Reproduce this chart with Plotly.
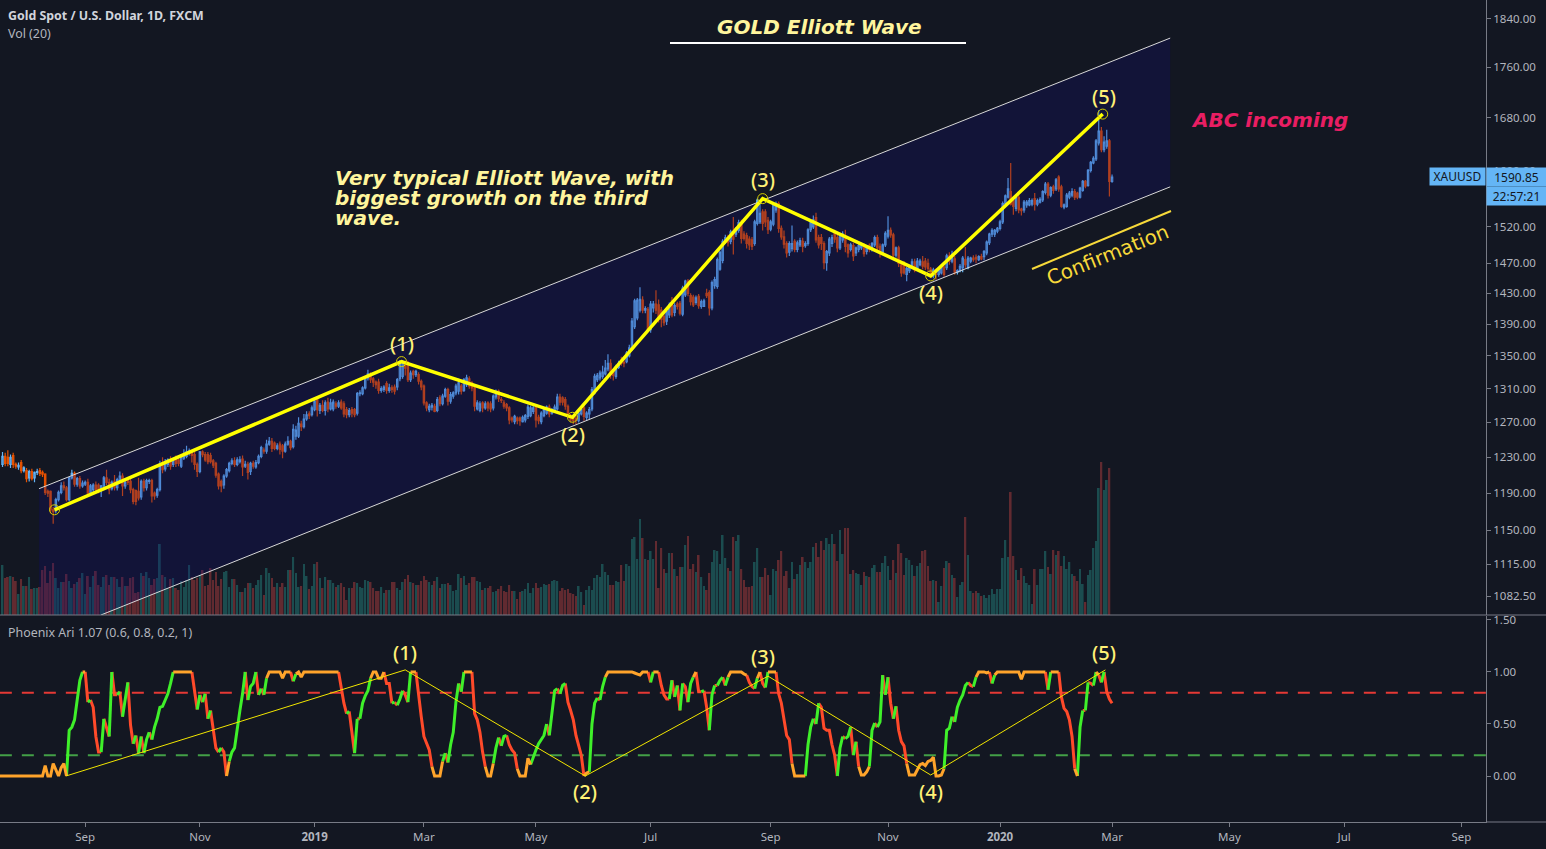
import math
import plotly.graph_objects as go

# daily candles
opens = [
    1222,1231,1230,1222,1232,1222,1219,1224,1215,1215,
    1207,1214,1207,1213,1215,1213,1211,1192,1192,1172,
    1171,1183,1191,1198,1196,1183,1207,1212,1200,1206,
    1198,1200,1202,1190,1194,1199,1199,1194,1198,1207,
    1202,1195,1203,1196,1204,1209,1198,1204,1203,1194,
    1193,1192,1186,1203,1196,1203,1204,1190,1188,1194,
    1224,1217,1222,1227,1222,1228,1227,1220,1229,1231,
    1235,1236,1233,1222,1214,1236,1233,1233,1232,1226,
    1223,1211,1203,1199,1209,1215,1223,1226,1222,1225,
    1228,1220,1222,1214,1223,1219,1224,1231,1238,1237,
    1245,1248,1246,1240,1245,1243,1237,1245,1248,1242,
    1254,1254,1268,1265,1274,1280,1279,1285,1297,1284,
    1290,1284,1294,1286,1286,1292,1289,1294,1292,1285,
    1279,1285,1285,1281,1304,1304,1311,1323,1325,1322,
    1318,1318,1308,1309,1316,1308,1311,1312,1312,1322,
    1325,1342,1342,1321,1331,1327,1327,1319,1313,1293,
    1285,1288,1289,1284,1299,1292,1301,1309,1295,1301,
    1305,1307,1313,1308,1315,1322,1317,1311,1286,1284,
    1293,1287,1293,1292,1287,1300,1307,1297,1293,1291,
    1287,1275,1271,1275,1275,1271,1273,1277,1278,1283,
    1288,1276,1271,1278,1281,1288,1281,1283,1286,1300,
    1299,1297,1289,1278,1276,1275,1272,1280,1287,1276,
    1280,1286,1305,1321,1323,1325,1328,1334,1341,1331,
    1325,1336,1344,1342,1343,1350,1358,1387,1398,1408,
    1421,1408,1409,1383,1411,1416,1415,1408,1400,1394,
    1402,1420,1405,1416,1417,1403,1428,1446,1427,1425,
    1418,1426,1413,1413,1430,1431,1411,1440,1439,1462,
    1474,1500,1505,1500,1512,1510,1515,1526,1510,1508,
    1503,1502,1497,1525,1527,1541,1541,1529,1517,1524,
    1544,1553,1518,1506,1497,1485,1490,1500,1489,1495,
    1500,1494,1497,1516,1520,1533,1505,1505,1497,1471,
    1484,1497,1512,1505,1491,1502,1506,1495,1489,1494,
    1484,1489,1491,1491,1486,1494,1490,1495,1505,1493,
    1485,1495,1507,1515,1509,1481,1491,1468,1470,1455,
    1460,1465,1472,1463,1468,1472,1473,1470,1462,1453,
    1460,1455,1457,1465,1464,1480,1473,1476,1458,1460,
    1464,1475,1464,1473,1477,1478,1475,1479,1479,1484,
    1498,1510,1510,1514,1518,1527,1553,1562,1570,1557,
    1546,1562,1545,1544,1551,1551,1552,1560,1552,1555,
    1558,1569,1581,1565,1577,1574,1591,1577,1548,1549,
    1562,1565,1570,1568,1562,1572,1585,1579,1601,1612,
    1618,1642,1660,1632,1637,1645,1585,
]
closes = [
    1231,1223,1223,1230,1222,1220,1221,1215,1218,1206,
    1214,1206,1213,1214,1212,1211,1191,1190,1172,1170,
    1183,1191,1198,1196,1183,1207,1212,1200,1206,1198,
    1201,1202,1190,1198,1199,1194,1193,1198,1207,1202,
    1194,1202,1196,1205,1209,1198,1202,1202,1194,1181,
    1181,1185,1203,1196,1204,1204,1187,1187,1194,1222,
    1216,1225,1227,1220,1226,1223,1223,1231,1233,1236,
    1237,1232,1222,1214,1236,1233,1227,1225,1225,1221,
    1210,1198,1198,1209,1216,1223,1226,1222,1227,1227,
    1219,1222,1213,1223,1220,1224,1231,1241,1237,1245,
    1248,1240,1240,1243,1239,1237,1245,1248,1241,1262,
    1261,1269,1265,1274,1279,1278,1287,1295,1285,1290,
    1284,1293,1286,1293,1294,1289,1293,1287,1280,1279,
    1284,1281,1279,1304,1305,1311,1323,1328,1321,1318,
    1315,1308,1310,1312,1308,1311,1309,1307,1321,1340,
    1342,1335,1321,1329,1327,1331,1319,1312,1293,1287,
    1289,1290,1283,1297,1292,1301,1309,1295,1303,1305,
    1313,1317,1307,1321,1323,1313,1311,1289,1293,1292,
    1287,1292,1287,1286,1301,1306,1298,1296,1289,1287,
    1273,1273,1277,1272,1272,1276,1278,1288,1287,1287,
    1273,1272,1281,1285,1288,1280,1285,1288,1300,1294,
    1294,1289,1277,1273,1272,1272,1281,1285,1277,1281,
    1285,1309,1325,1326,1329,1330,1335,1341,1327,1326,
    1337,1341,1341,1341,1354,1360,1394,1420,1421,1422,
    1408,1410,1383,1416,1416,1408,1398,1396,1392,1406,
    1415,1402,1414,1413,1404,1437,1446,1430,1419,1415,
    1424,1414,1419,1420,1427,1411,1444,1448,1475,1485,
    1500,1505,1498,1513,1503,1518,1526,1504,1504,1497,
    1495,1493,1527,1558,1539,1525,1527,1516,1527,1552,
    1553,1518,1506,1496,1484,1497,1497,1489,1498,1501,
    1493,1497,1516,1527,1530,1502,1495,1497,1471,1486,
    1503,1505,1503,1491,1509,1510,1493,1484,1495,1480,
    1491,1494,1495,1483,1493,1489,1497,1505,1491,1484,
    1495,1511,1515,1509,1481,1491,1470,1457,1457,1463,
    1465,1472,1461,1473,1473,1466,1465,1463,1455,1461,
    1455,1461,1465,1455,1480,1473,1482,1458,1460,1466,
    1477,1468,1477,1477,1475,1476,1479,1476,1486,1499,
    1510,1515,1515,1518,1527,1553,1564,1574,1552,1549,
    1562,1544,1543,1555,1555,1557,1557,1552,1557,1559,
    1570,1581,1565,1576,1572,1587,1574,1549,1551,1565,
    1568,1570,1562,1562,1575,1585,1578,1601,1613,1619,
    1645,1660,1632,1643,1645,1585,1591,
]
highs = [
    1236,1235,1238,1233,1235,1224,1224,1227,1220,1218,
    1216,1217,1214,1217,1218,1215,1212,1194,1193,1175,
    1185,1193,1202,1203,1198,1208,1216,1214,1208,1209,
    1204,1204,1206,1200,1201,1203,1201,1199,1209,1216,
    1206,1204,1210,1207,1214,1212,1205,1206,1206,1196,
    1194,1207,1205,1206,1206,1206,1206,1192,1196,1226,
    1230,1228,1229,1231,1228,1232,1229,1233,1239,1243,
    1240,1238,1236,1224,1237,1238,1236,1236,1235,1228,
    1225,1213,1205,1211,1218,1225,1229,1230,1230,1231,
    1232,1226,1225,1225,1226,1227,1233,1243,1241,1250,
    1253,1252,1248,1246,1248,1245,1248,1254,1250,1268,
    1266,1276,1272,1280,1283,1283,1290,1299,1300,1293,
    1296,1296,1299,1298,1297,1295,1296,1297,1295,1288,
    1287,1288,1287,1306,1308,1313,1325,1333,1330,1324,
    1320,1322,1313,1314,1319,1316,1314,1315,1323,1345,
    1345,1344,1344,1332,1333,1333,1330,1321,1315,1295,
    1292,1293,1292,1300,1302,1304,1311,1311,1306,1307,
    1316,1322,1316,1323,1327,1325,1319,1314,1296,1295,
    1295,1295,1295,1295,1303,1309,1309,1300,1296,1293,
    1289,1277,1279,1277,1277,1278,1280,1291,1290,1291,
    1291,1279,1283,1288,1290,1291,1287,1291,1304,1304,
    1301,1300,1291,1280,1278,1278,1284,1288,1291,1283,
    1288,1312,1328,1329,1332,1338,1345,1352,1346,1334,
    1339,1344,1349,1348,1356,1364,1398,1423,1424,1438,
    1426,1413,1412,1420,1420,1434,1422,1412,1405,1409,
    1418,1425,1417,1419,1420,1440,1448,1449,1430,1428,
    1427,1429,1422,1423,1436,1434,1447,1452,1478,1487,
    1503,1509,1509,1516,1534,1520,1530,1530,1514,1512,
    1507,1506,1530,1560,1558,1545,1545,1534,1530,1554,
    1556,1556,1522,1515,1500,1500,1522,1503,1501,1505,
    1505,1500,1518,1529,1536,1540,1509,1510,1500,1488,
    1506,1509,1516,1512,1511,1514,1516,1497,1498,1498,
    1493,1497,1498,1497,1495,1497,1499,1508,1509,1497,
    1497,1514,1535,1519,1512,1493,1494,1472,1473,1465,
    1468,1476,1476,1477,1476,1480,1477,1476,1465,1464,
    1463,1464,1468,1467,1483,1485,1487,1480,1462,1469,
    1480,1492,1480,1479,1481,1482,1481,1483,1488,1501,
    1512,1518,1517,1520,1530,1556,1566,1590,1612,1562,
    1565,1566,1547,1558,1558,1561,1560,1568,1560,1562,
    1572,1584,1584,1578,1580,1590,1594,1580,1553,1568,
    1571,1575,1574,1570,1577,1587,1587,1603,1615,1622,
    1648,1692,1666,1652,1662,1648,1595,
]
lows = [
    1219,1220,1220,1218,1218,1217,1216,1212,1213,1202,
    1203,1204,1202,1210,1209,1208,1188,1186,1168,1157,
    1168,1181,1189,1193,1181,1181,1205,1197,1197,1195,
    1196,1198,1187,1188,1191,1191,1190,1186,1196,1199,
    1189,1193,1193,1193,1202,1187,1195,1199,1190,1178,
    1177,1182,1183,1192,1193,1200,1180,1183,1185,1192,
    1212,1214,1219,1216,1219,1219,1220,1218,1227,1229,
    1232,1224,1216,1208,1212,1230,1225,1222,1223,1218,
    1207,1194,1191,1195,1207,1213,1221,1219,1220,1223,
    1209,1218,1205,1210,1217,1217,1222,1229,1234,1234,
    1243,1236,1238,1238,1233,1229,1235,1243,1238,1240,
    1250,1252,1260,1263,1272,1274,1277,1283,1277,1280,
    1282,1278,1282,1284,1283,1286,1287,1285,1276,1275,
    1276,1276,1276,1278,1301,1302,1309,1320,1317,1312,
    1310,1304,1305,1306,1304,1305,1305,1303,1308,1319,
    1322,1326,1318,1318,1322,1324,1315,1308,1290,1283,
    1282,1284,1282,1282,1289,1290,1299,1290,1292,1298,
    1302,1303,1303,1306,1312,1310,1307,1283,1284,1282,
    1282,1285,1283,1282,1284,1297,1294,1293,1286,1283,
    1268,1270,1268,1268,1266,1270,1270,1274,1276,1280,
    1264,1268,1268,1276,1279,1276,1279,1281,1284,1290,
    1290,1285,1275,1270,1268,1268,1270,1278,1272,1272,
    1274,1283,1303,1318,1320,1322,1326,1331,1322,1320,
    1322,1334,1338,1336,1341,1348,1356,1384,1395,1405,
    1404,1404,1380,1379,1405,1403,1392,1386,1388,1389,
    1398,1399,1400,1409,1401,1400,1425,1426,1414,1412,
    1415,1410,1410,1412,1424,1401,1408,1436,1436,1460,
    1470,1497,1493,1496,1482,1506,1512,1497,1501,1490,
    1488,1488,1494,1522,1524,1515,1520,1510,1514,1521,
    1540,1512,1502,1490,1478,1480,1486,1485,1485,1492,
    1485,1491,1494,1513,1517,1498,1490,1488,1462,1460,
    1480,1492,1498,1485,1488,1498,1485,1478,1486,1473,
    1480,1485,1488,1479,1482,1485,1486,1492,1487,1478,
    1483,1492,1504,1505,1478,1478,1465,1452,1455,1446,
    1457,1462,1458,1460,1466,1462,1461,1459,1451,1450,
    1448,1452,1455,1452,1461,1468,1470,1455,1455,1458,
    1458,1464,1462,1470,1472,1470,1473,1474,1474,1481,
    1495,1506,1506,1511,1515,1524,1550,1560,1550,1537,
    1542,1539,1536,1540,1547,1549,1549,1543,1549,1553,
    1555,1566,1560,1562,1567,1571,1570,1547,1545,1547,
    1559,1562,1558,1559,1560,1570,1575,1577,1598,1610,
    1615,1638,1628,1628,1633,1563,1583,
]
# volume, relative units (the last bar has none yet)
volume = [
    50,37,38,39,38,34,21,36,29,29,38,26,27,27,28,45,49,32,44,52,
    37,27,33,33,41,34,27,31,33,37,42,21,39,28,39,44,30,28,38,40,
    30,38,38,36,28,38,29,29,37,38,22,23,42,39,43,37,30,36,37,71,
    40,38,27,36,37,27,25,34,28,35,50,38,35,37,40,45,29,30,47,35,
    43,29,36,43,44,28,36,36,30,23,23,27,32,32,27,30,35,40,20,47,
    42,37,28,32,28,32,28,45,45,58,42,28,29,51,39,26,29,51,53,37,
    27,38,35,35,32,28,30,32,28,15,27,27,33,32,28,27,35,34,33,27,
    24,24,28,22,25,25,33,33,27,25,
    33,36,40,33,32,30,30,34,39,35,33,30,34,38,27,31,31,32,30,24,
    25,41,37,39,30,32,38,38,34,33,25,27,27,29,23,24,26,29,24,23,
    30,24,24,16,23,24,26,32,22,27,32,27,28,31,30,31,34,35,34,24,
    27,25,26,22,21,19,29,23,10,25,29,25,37,40,38,51,43,40,30,30,
    34,33,50,34,51,49,76,78,56,96,77,56,55,64,56,74,27,67,46,42,
    62,62,46,39,48,48,70,79,46,51,43,60,38,29,25,42,53,65,64,51,
    80,57,47,44,78,74,80,46,35,28,28,29,53,67,38,38,47,40,20,46,
    44,55,64,39,44,27,53,36,41,50,
    58,53,47,53,68,72,58,74,65,77,71,81,71,54,85,61,87,87,41,45,
    42,41,30,43,39,38,47,50,43,43,52,59,49,35,55,42,71,62,40,57,
    55,50,39,49,52,64,65,49,34,35,34,13,29,47,54,52,40,37,18,30,
    33,98,60,24,22,24,22,19,20,17,20,26,21,26,26,57,75,58,123,59,
    45,35,47,39,32,30,11,46,30,46,46,64,48,41,65,60,64,49,59,46,
    53,41,39,34,46,31,13,40,45,67,74,127,153,125,135,147,
]
# Phoenix Ari oscillator, starts one bar left of the first candle
osc = [
    0,
    0,0,0,0,0,0,0,0,0,0,
    0,0,0,0,0,0,.10,0,0,.12,
    .06,0,.08,.12,0,.44,.47,.54,.73,.92,
    1,1,.71,.73,.66,.38,.23,.23,.55,.47,
    .38,1,.78,.78,.81,.57,.74,.90,.49,.31,
    .39,.22,.38,.22,.35,.42,.35,.47,.55,.66,
    .67,.74,.79,.89,1,1,1,1,1,1,
    1,1,.84,.64,.78,.71,.79,.55,.63,.47,
    .27,.23,.27,.23,0,.14,.23,.27,.47,.63,
    .79,1,.73,.86,.89,1,.78,.84,.78,.94,
    1,1,1,1,1,.94,1,1,1,.91,
    .98,1,.95,1,1,1,1,1,1,1,
    1,1,1,1,1,1,1,.86,.70,.60,
    .62,.41,.22,.55,.55,.70,.77,.82,.94,1,
    1,.94,.94,1,.89,.89,.70,.71,.68,.74,
    .82,.78,.71,1,1,1,.76,.57,.38,.31,
    .25,.09,0,0,0,.14,.22,.13,.30,.42,
    .71,.89,.81,1,1,1,1,.60,.54,.42,
    .23,.09,0,0,.12,.27,.37,.29,.38,.39,
    .30,.25,.22,.07,0,0,0,.17,.11,.19,
    .25,.31,.35,.39,.50,.39,.63,.82,.84,.79,
    .87,.89,.71,.63,.54,.39,.30,.20,0,.03,
    .04,.50,.70,.75,.73,.86,.95,1,1,1,
    1,1,1,1,1,1,1,.99,.98,.97,
    1,1,1,.90,1,1,1,.87,.78,.74,
    .74,.92,.76,.87,.63,.89,.86,.71,.89,.95,
    1,.81,.81,.82,.66,.44,.78,.87,.87,.92,
    .95,.87,.95,1,1,1,1,1,.98,.97,
    .90,.86,.84,.94,1,.89,.85,1,1,1,
    1,.79,.70,.54,.39,.35,.12,0,0,0,
    0,0,.30,.47,.55,.50,.70,.66,.46,.44,
    .44,.30,.20,0,.27,.38,.36,.38,.47,.20,
    .33,.09,.01,.01,.04,.09,.44,.51,.47,.52,
    .97,.78,.95,.70,.55,.67,.44,.33,.29,.12,
    .01,.01,.01,.06,.11,.12,.10,.14,.15,.18,
    0,0,.01,.07,.44,.46,.57,.52,.66,.73,
    .78,.87,.90,.87,.86,.95,1,1,1,.99,
    1,.89,.97,1,1,1,1,1,1,1,
    1,1,.93,1,1,1,1,1,1,1,
    1,1,.83,1,1,1,1,.76,.65,.62,
    .54,.38,.07,0,.47,.63,.63,.90,.89,.87,
    1,.97,.90,1,.81,.74,.70,
]

# wave pivots and channel drawn on the chart
wave_x = [19.5, 149.6, 213.7, 285, 348, 412.5]
wave_y = [1172, 1343, 1276, 1560, 1453, 1686]
osc_wave_x = [23.8, 151, 218.5, 287, 348, 413.5]
osc_wave_y = [0, 1.02, 0, 0.96, 0.01, 1.02]
upper_x = [13.7, 437.8]
upper_y = [1195, 1808]
lower_x = [36.9, 437.8]
lower_y = [1064, 1577]
fill_x = [13.7, 437.8, 437.8, 36.9, 13.7]
fill_y = [1195, 1808, 1577, 1064, 1064]

time_ticks = [31, 74, 117, 158, 200, 243, 288, 332, 374, 416, 460, 503, 547]
time_labels = ["Sep", "Nov", "<b>2019</b>", "Mar", "May", "Jul", "Sep", "Nov",
               "<b>2020</b>", "Mar", "May", "Jul", "Sep"]
price_ticks = [1840, 1760, 1680, 1600, 1520, 1470, 1430, 1390, 1350, 1310,
               1270, 1230, 1190, 1150, 1115, 1082.5]
osc_ticks = [1.5, 1.0, 0.5, 0.0]

BG = "#131722"
AXIS = "#787b86"
TEXT = "#b2b5be"
BLUE = "#64b5f6"
ORANGE = "#e65100"
PALE = "#fff59d"
YELLOW = "#ffff00"
W, H = 1486.0, 822.0

bars = list(range(len(closes)))
vol_colors = ["#1b4c4f" if c >= o else "#612a30" for o, c in zip(opens, closes)]

fig = go.Figure()
fig.add_trace(go.Bar(x=bars[:len(volume)], y=volume, marker_color=vol_colors[:len(volume)],
                     marker_line_width=0, width=0.66, yaxis="y", hoverinfo="skip"))
fig.add_trace(go.Scatter(x=fill_x, y=fill_y, mode="lines", fill="toself", line_width=0,
                         fillcolor="rgba(15,11,122,0.25)", yaxis="y2", hoverinfo="skip"))
fig.add_trace(go.Candlestick(x=bars, open=opens, high=highs, low=lows, close=closes, yaxis="y2",
                             whiskerwidth=0,
                             increasing=dict(line=dict(color=BLUE, width=1.2), fillcolor="rgba(0,0,0,0)"),
                             decreasing=dict(line=dict(color=ORANGE, width=1.2), fillcolor=ORANGE)))
for xs, ys in [(upper_x, upper_y), (lower_x, lower_y)]:
    fig.add_trace(go.Scatter(x=xs, y=ys, mode="lines", line=dict(color="#d8d8d8", width=1), yaxis="y2"))
fig.add_trace(go.Scatter(x=wave_x, y=wave_y, mode="lines", line=dict(color=YELLOW, width=3.5), yaxis="y2"))
fig.add_trace(go.Scatter(x=wave_x, y=wave_y, mode="markers", yaxis="y2",
                         marker=dict(size=10, color="rgba(0,0,0,0)", line=dict(color="#d8d000", width=1))))

# oscillator: dashed levels, coloured line, thin wave overlay
fig.add_trace(go.Scatter(x=[-1, 557], y=[0.8, 0.8], mode="lines", yaxis="y3",
                         line=dict(color="#e53935", width=2, dash="12px,10px")))
fig.add_trace(go.Scatter(x=[-1, 557], y=[0.2, 0.2], mode="lines", yaxis="y3",
                         line=dict(color="#43a047", width=2, dash="12px,10px")))


def osc_colour(a, b):
    if (a >= 0.93 and b >= 0.93) or (a <= 0.18 and b <= 0.18):
        return "#ffa42b"
    return "#3ff02a" if b > a else "#ff4a2a"


# one run per stretch of the same colour so the joins stay clean
segs = {"#ff4a2a": ([], []), "#3ff02a": ([], []), "#ffa42b": ([], [])}
prev = None
for i in range(1, len(osc)):
    col = osc_colour(osc[i - 1], osc[i])
    xs, ys = segs[col]
    if col != prev:
        xs.extend([None, i - 2])
        ys.extend([None, osc[i - 1]])
    xs.append(i - 1)
    ys.append(osc[i])
    prev = col
for col, (xs, ys) in segs.items():
    fig.add_trace(go.Scatter(x=xs, y=ys, mode="lines", yaxis="y3",
                             line=dict(color=col, width=3)))
fig.add_trace(go.Scatter(x=osc_wave_x, y=osc_wave_y, mode="lines", yaxis="y3",
                         line=dict(color="#f2e600", width=1)))


def label(text, x, y, size, color, family="Noto Sans", anchor="center", **kw):
    font = dict(family=family, size=size, color=color)
    for key in ("weight", "style"):
        if key in kw:
            font[key] = kw.pop(key)
    fig.add_annotation(text=text, x=x / W, y=1 - y / H, xref="paper", yref="paper",
                       xanchor=anchor, yanchor="middle", showarrow=False, font=font, **kw)


label("Gold Spot / U.S. Dollar, 1D, FXCM", 6, 16, 12.4, "#d1d4dc", anchor="left", weight="bold")
label("Vol (20)", 6, 33, 12.4, "#b2b5be", anchor="left")
label("Phoenix Ari 1.07 (0.6, 0.8, 0.2, 1)", 6, 632, 12.4, "#b2b5be", anchor="left")

label("GOLD Elliott Wave", 819, 27, 20, PALE, "DejaVu Sans", weight="bold", style="italic")
label("Very typical Elliott Wave, with", 333, 178, 20, PALE, "DejaVu Sans", anchor="left", weight="bold", style="italic")
label("biggest growth on the third", 333, 198, 20, PALE, "DejaVu Sans", anchor="left", weight="bold", style="italic")
label("wave.", 333, 218, 20, PALE, "DejaVu Sans", anchor="left", weight="bold", style="italic")
label("ABC incoming", 1189, 120, 20, "#e91e63", "DejaVu Sans", anchor="left", weight="bold", style="italic")
label("Confirmation", 1107, 255, 20, "#f7d93a", "DejaVu Sans", textangle=-22)

for txt, x, y in [("(1)", 402, 343.5), ("(2)", 573, 435), ("(3)", 763, 179.5), ("(4)", 931, 292.5), ("(5)", 1104, 96.5),
                  ("(1)", 405, 652.5), ("(2)", 585, 791.5), ("(3)", 763, 656.5), ("(4)", 931, 791.5), ("(5)", 1104, 652.5)]:
    label(txt, x, y, 20, "#fff176", weight=500)

# last price tags on the scale
label("XAUUSD", 1457.5, 176.5, 12, "#131722", bgcolor=BLUE, width=55, height=17, borderpad=0)
label("1590.85", 1516.5, 177, 12, "#131722", bgcolor=BLUE, width=59, height=18, borderpad=0)
label("22:57:21", 1516.5, 196, 12, "#131722", bgcolor=BLUE, width=59, height=18, borderpad=0)

lines = [
    (670, 43, 966, 43, "#ffffff", 2),
    (1032, 269, 1171, 211, "#f7d93a", 2),
    (0, 615, 1546, 615, AXIS, 1),
    (1486, 822, 1546, 822, AXIS, 1),
]
for x0, y0, x1, y1, col, wid in lines:
    fig.add_shape(type="line", xref="paper", yref="paper", x0=x0 / W, x1=x1 / W,
                  y0=1 - y0 / H, y1=1 - y1 / H, line=dict(color=col, width=wid))

tickfont = dict(family="Noto Sans", size=11.5, color=TEXT)
fig.update_layout(
    width=1546, height=849,
    margin=dict(l=0, r=60, t=0, b=27, autoexpand=False),
    paper_bgcolor=BG, plot_bgcolor=BG,
    showlegend=False, bargap=0.3, hovermode=False,
    xaxis=dict(range=[-0.94, 556.2], anchor="y3", tickmode="array", tickvals=time_ticks, ticktext=time_labels,
               showgrid=False, zeroline=False, showline=True, linecolor=AXIS, ticks="outside", ticklen=4,
               tickcolor=AXIS, tickfont=tickfont, rangeslider=dict(visible=False)),
    yaxis=dict(domain=[1 - 615 / H, 1], range=[0, 615], visible=False, fixedrange=True),
    yaxis2=dict(domain=[1 - 615 / H, 1], overlaying="y", side="right", anchor="x", type="log",
                range=[math.log10(1064), math.log10(1872.4)], tickmode="array", tickvals=price_ticks,
                ticktext=["%.2f" % v for v in price_ticks], showgrid=False, zeroline=False, showline=True,
                linecolor=AXIS, ticks="outside", ticklen=4, tickcolor=AXIS, tickfont=tickfont),
    yaxis3=dict(domain=[0, 1 - 616 / H], side="right", anchor="x", range=[-0.442, 1.538], tickmode="array",
                tickvals=osc_ticks, ticktext=["%.2f" % v for v in osc_ticks], showgrid=False, zeroline=False,
                showline=True, linecolor=AXIS, ticks="outside", ticklen=4, tickcolor=AXIS, tickfont=tickfont),
)

fig.write_html("out.html", config={"displayModeBar": False},
               post_script="document.body.style.margin='0';document.body.style.background='#131722';")
